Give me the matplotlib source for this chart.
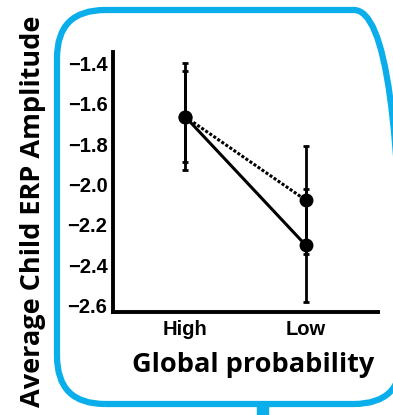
import numpy as np
import matplotlib
matplotlib.use('Agg')
import matplotlib.pyplot as plt
from matplotlib.patches import FancyBboxPatch, Rectangle

# datos
categorias = ['High', 'Low']
media_solida = [-1.665, -2.30]
error_solida = [0.265, 0.28]
media_punteada = [-1.665, -2.077]
error_punteada = [0.225, 0.265]
ticks_y = [-1.4, -1.6, -1.8, -2.0, -2.2, -2.4, -2.6]

azul = '#0AAEEA'

fig = plt.figure(figsize=(3.93, 4.15), dpi=100)
W, H = 393, 415

# capa de fondo en pixeles para el recuadro azul
fondo = fig.add_axes([0, 0, 1, 1])
fondo.set_xlim(0, W)
fondo.set_ylim(0, H)
fondo.axis('off')
caja = FancyBboxPatch((57, 11), 345, 394,
                      boxstyle="round,pad=0,rounding_size=48",
                      fill=False, edgecolor=azul, linewidth=4.5)
fondo.add_patch(caja)
fondo.add_patch(Rectangle((257, 0), 11, 12, color=azul))

ax = fig.add_axes([113 / W, 103 / H, 265 / W, 260 / H])
x = np.arange(len(categorias))

ax.errorbar(x, media_punteada, yerr=error_punteada, color='black',
            linestyle=(0, (1, 0.6)), linewidth=2.2, marker='o', markersize=9,
            capsize=2.5, capthick=2, elinewidth=2)
ax.errorbar(x, media_solida, yerr=error_solida, color='black',
            linestyle='-', linewidth=2.2, marker='o', markersize=9,
            capsize=2.5, capthick=2, elinewidth=2)

ax.set_xlim(-0.6, 1.6)
ax.set_ylim(-2.63, -1.345)
ax.set_xticks(x)
ax.set_xticklabels(categorias)
ax.set_yticks(ticks_y)
ax.set_yticklabels([f'\u2212{abs(t):.1f}' for t in ticks_y])
ax.tick_params(axis='both', length=0)
ax.tick_params(axis='x', pad=6)
ax.tick_params(axis='y', pad=4)
for lab in ax.get_xticklabels() + ax.get_yticklabels():
    lab.set_fontfamily('Liberation Sans')
    lab.set_fontweight('bold')
    lab.set_fontsize(14.5)

for s in ['top', 'right']:
    ax.spines[s].set_visible(False)
for s in ['left', 'bottom']:
    ax.spines[s].set_linewidth(2.8)

ax.set_xlabel('Global probability', fontsize=19.5, fontweight='bold',
              fontfamily='Open Sans', labelpad=9)
ax.xaxis.label.set_x(0.53)
fig.text(33 / W, 0.49, 'Average Child ERP Amplitude', rotation=90,
         fontsize=19.5, fontweight='bold', fontfamily='Open Sans',
         ha='center', va='center')

fig.savefig('out.png', dpi=100)
